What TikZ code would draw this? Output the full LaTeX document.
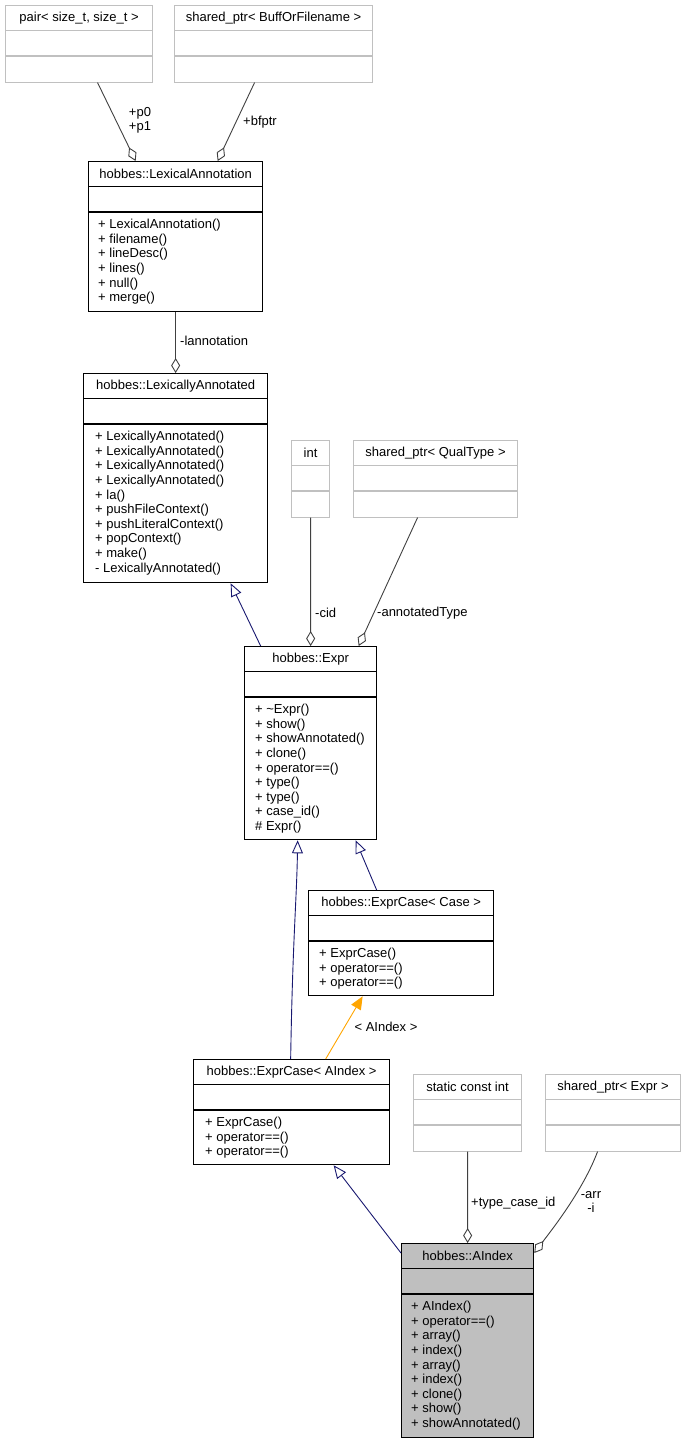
\documentclass[tikz,border=0pt]{standalone}
\usepackage{fontspec}
\setmainfont{Liberation Sans}
\usetikzlibrary{arrows.meta}

\definecolor{edgegray}{HTML}{404040}
\definecolor{inhblue}{HTML}{191970}
\definecolor{tplorange}{HTML}{FFA500}
\definecolor{fillgray}{HTML}{BFBFBF}
\definecolor{extgray}{HTML}{C0C0C0}

\tikzset{
  classbox/.style={draw=black, line width=1.3pt, rectangle, inner sep=0pt, anchor=north west},
  classline/.style={draw=black, line width=1.3pt},
  extbox/.style={draw=extgray, line width=1.1pt, rectangle, inner sep=0pt, anchor=north west},
  extline/.style={draw=extgray, line width=1.1pt},
  txt/.style={font=\fontsize{13}{14.6}\selectfont, inner sep=0pt},
  members/.style={txt, align=left, anchor=north west},
  lbl/.style={font=\fontsize{13}{14}\selectfont, inner sep=0pt, align=center},
  aggr/.style={draw=edgegray, line width=0.9pt, -{Diamond[open, length=15pt, width=9pt]}},
  inherit/.style={draw=inhblue, line width=0.9pt, -{Triangle[open, length=13pt, width=11pt]}},
  tmpl/.style={draw=tplorange, line width=0.9pt, -{Triangle[length=13pt, width=11pt]}}
}

% nombre, estilo, x, y, ancho, alto, titulo, miembros, margen
\newcommand{\classnode}[9]{
  \node[#2, minimum width=#5pt, minimum height=#6pt] (#1) at (#3,#4) {};
  \node[txt] (#1-title) at ([yshift=-12.75pt]#1.north) {#7};
  \draw[classline] ([yshift=-25.5pt]#1.north west) -- ([yshift=-25.5pt]#1.north east);
  \draw[classline] ([yshift=-51pt]#1.north west) -- ([yshift=-51pt]#1.north east);
  \node[members] (#1-members) at ([xshift=#9pt, yshift=-58pt]#1.north west) {#8};
}
% nombre, x, y, ancho, titulo
\newcommand{\typenode}[5]{
  \node[extbox, minimum width=#4pt, minimum height=76.5pt] (#1) at (#2,#3) {};
  \node[txt] (#1-title) at ([yshift=-12.75pt]#1.north) {#5};
  \draw[extline] ([yshift=-25.5pt]#1.north west) -- ([yshift=-25.5pt]#1.north east);
  \draw[extline] ([yshift=-51pt]#1.north west) -- ([yshift=-51pt]#1.north east);
}

\begin{document}
\begin{tikzpicture}[x=1pt, y=-1pt]
    \useasboundingbox (0,0) rectangle (685,1443);

    % Tipos externos
    \typenode{pair}{5}{5}{147}{pair< size\_t, size\_t >}
    \typenode{bfptr}{174}{5}{198}{shared\_ptr< BuffOrFilename >}
    \typenode{intt}{291}{440}{38}{int}
    \typenode{qualtype}{353}{440}{164}{shared\_ptr< QualType >}
    \typenode{sci}{413}{1074}{108}{static const int}
    \typenode{exprptr}{545}{1074}{135}{shared\_ptr< Expr >}

    % Clases
    \classnode{lexann}{classbox}{88}{161}{174}{150}{hobbes::LexicalAnnotation}
      {+ LexicalAnnotation()\\+ filename()\\+ lineDesc()\\+ lines()\\+ null()\\+ merge()}{10}
    \classnode{lexannotd}{classbox}{83}{373}{184}{209}{hobbes::LexicallyAnnotated}
      {+ LexicallyAnnotated()\\+ LexicallyAnnotated()\\+ LexicallyAnnotated()\\+ LexicallyAnnotated()\\+ la()\\+ pushFileContext()\\+ pushLiteralContext()\\+ popContext()\\+ make()\\- LexicallyAnnotated()}{12}
    \classnode{expr}{classbox}{244}{646}{132}{193}{hobbes::Expr}
      {+ \textasciitilde Expr()\\+ show()\\+ showAnnotated()\\+ clone()\\+ operator==()\\+ type()\\+ type()\\+ case\_id()\\\# Expr()}{11}
    \classnode{exprcase}{classbox}{308}{890}{185}{105}{hobbes::ExprCase< Case >}
      {+ ExprCase()\\+ operator==()\\+ operator==()}{11}
    \classnode{exprcaseaidx}{classbox}{193}{1059}{196}{105}{hobbes::ExprCase< AIndex >}
      {+ ExprCase()\\+ operator==()\\+ operator==()}{12}
    \classnode{aindex}{classbox, fill=fillgray}{401}{1243}{132}{194}{hobbes::AIndex}
      {+ AIndex()\\+ operator==()\\+ array()\\+ index()\\+ array()\\+ index()\\+ clone()\\+ show()\\+ showAnnotated()}{10}

    % Agregacion
    \draw[aggr] ([xshift=18.5pt]pair.south) -- ([xshift=-40pt]lexann.north);
    \draw[aggr] ([xshift=-19pt]bfptr.south) -- ([xshift=42pt]lexann.north);
    \draw[aggr] (lexann.south) -- (lexannotd.north);
    \draw[aggr] (intt.south) -- (expr.north);
    \draw[aggr] ([xshift=-18pt]qualtype.south) -- ([xshift=48pt]expr.north);
    \draw[aggr] (sci.south) -- (aindex.north);
    \draw[aggr] ([xshift=-15.5pt]exprptr.south) .. controls +(-15,40) and +(15,-20) .. ([yshift=-10pt]aindex.north east);

    % Herencia
    \draw[inherit] ([xshift=-50pt]expr.north) -- ([xshift=55pt]lexannotd.south);
    \draw[inherit] ([xshift=-24.5pt]exprcase.north) -- ([xshift=45pt]expr.south);
    \draw[inherit] ([xshift=-1pt]exprcaseaidx.north) .. controls +(2,-120) and +(-1,60) .. ([xshift=-13pt]expr.south);
    \draw[inherit] ([yshift=-10pt]aindex.north west) -- ([xshift=42pt]exprcaseaidx.south);
    \draw[tmpl] ([xshift=34pt]exprcaseaidx.north) -- ([xshift=-38.5pt]exprcase.south);

    % Etiquetas
    \node[lbl] (lp) at (140,120.5) {+p0\\+p1};
    \node[lbl] (lbf) at (260,122) {+bfptr};
    \node[lbl, anchor=west] (lla) at (180,341) {-lannotation};
    \node[lbl, anchor=west] (lcid) at (315,613) {-cid};
    \node[lbl, anchor=west] (lat) at (377,613) {-annotatedType};
    \node[lbl] (ltpl) at (386,1027) {< AIndex >};
    \node[lbl, anchor=west] (ltc) at (471,1203) {+type\_case\_id};
    \node[lbl] (larr) at (591,1202) {-arr\\-i};
\end{tikzpicture}
\end{document}
